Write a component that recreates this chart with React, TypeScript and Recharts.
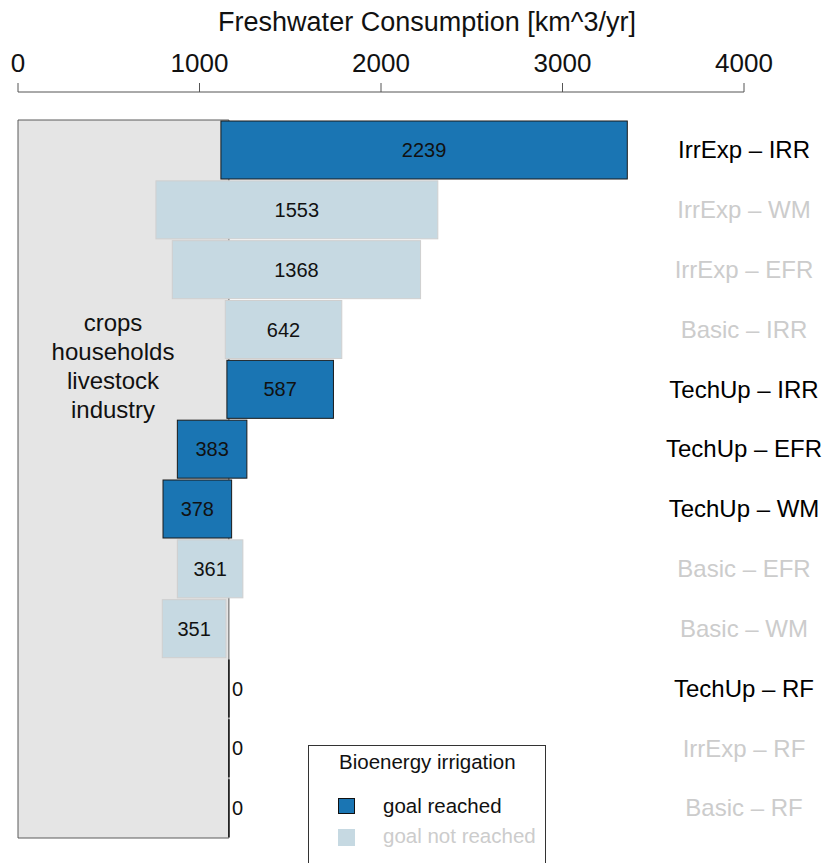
import { BarChart, Bar, XAxis, YAxis, ReferenceArea, Legend } from "recharts"

// scenario rows, top to bottom
const scenarios = [
  "IrrExp – IRR",
  "IrrExp – WM",
  "IrrExp – EFR",
  "Basic – IRR",
  "TechUp – IRR",
  "TechUp – EFR",
  "TechUp – WM",
  "Basic – EFR",
  "Basic – WM",
  "TechUp – RF",
  "IrrExp – RF",
  "Basic – RF",
]
// consumption of crops, households, livestock and industry [km^3/yr]
const otherUse = [1118, 760, 850, 1142, 1151, 878, 799, 878, 795, 1162, 1162, 1162]
// additional consumption for bioenergy irrigation [km^3/yr]
const bioenergyUse = [2239, 1553, 1368, 642, 587, 383, 378, 361, 351, 0, 0, 0]
const goalReached = [true, false, false, false, true, true, true, false, false, true, false, false]
const baselineUse = 1162
const xTicks = [0, 1000, 2000, 3000, 4000]
const sectors = ["crops", "households", "livestock", "industry"]

const DARK = "#1a75b3"
const LIGHT = "#c6d9e2"
const GREY_TEXT = "#cccccc"

const data = scenarios.map((scenario, i) => ({
  scenario,
  other: otherUse[i],
  bio: bioenergyUse[i],
  range: [otherUse[i], otherUse[i] + bioenergyUse[i]],
  reached: goalReached[i],
}))

function ScenarioBar(props: any) {
  const { x, y, width, height, payload } = props
  const cy = y + height / 2
  if (!width) {
    return (
      <g>
        <line x1={x} x2={x} y1={y} y2={y + height} stroke="#111" strokeWidth={1.5} />
        <text x={x + 3} y={cy} dy="0.35em" fontSize={20} fill="#111">
          {payload.bio}
        </text>
      </g>
    )
  }
  return (
    <g>
      <rect
        x={x}
        y={y}
        width={width}
        height={height}
        fill={payload.reached ? DARK : LIGHT}
        stroke={payload.reached ? "#1a1a1a" : "#cfcfcf"}
        strokeWidth={1}
      />
      <text x={x + width / 2} y={cy} dy="0.35em" textAnchor="middle" fontSize={20} fill="#111">
        {payload.bio}
      </text>
    </g>
  )
}

function ScenarioTick(props: any) {
  const { x, y, payload, index } = props
  return (
    <text x={x} y={y} dy="0.35em" textAnchor="middle" fontSize={24} fill={goalReached[index] ? "#000" : GREY_TEXT}>
      {payload.value}
    </text>
  )
}

function AxisTitle() {
  return (
    <text x={427} y={31} textAnchor="middle" fontSize={27} fill="#111">
      Freshwater Consumption [km^3/yr]
    </text>
  )
}

function SectorLabel(props: any) {
  const vb = props.viewBox
  return (
    <text x={vb.x + 95} y={331} textAnchor="middle" fontSize={24} fill="#111">
      {sectors.map((s, i) => (
        <tspan key={s} x={vb.x + 95} y={331 + i * 29}>
          {s}
        </tspan>
      ))}
    </text>
  )
}

function LegendBox() {
  return (
    <svg width={239} height={140} style={{ display: "block" }}>
      <rect x={0.5} y={0.5} width={237} height={150} fill="#fff" stroke="#333" />
      <text x={31} y={24} fontSize={20.5} fill="#111">
        Bioenergy irrigation
      </text>
      <rect x={30.5} y={53.5} width={16} height={15} fill={DARK} stroke="#111" />
      <text x={75} y={68} fontSize={20.5} fill="#111">
        goal reached
      </text>
      <rect x={30} y={84} width={17} height={17} fill={LIGHT} />
      <text x={75} y={98} fontSize={20.5} fill={GREY_TEXT}>
        goal not reached
      </text>
    </svg>
  )
}

export default function App() {
  return (
    <div
      style={{
        position: "fixed",
        left: 0,
        top: 0,
        width: 825,
        height: 863,
        overflow: "hidden",
        background: "#fff",
        fontFamily: "'Liberation Sans', Arial, sans-serif",
      }}
    >
      <BarChart
        width={825}
        height={863}
        data={data}
        layout="vertical"
        margin={{ top: 0, right: 0, bottom: 25, left: 18 }}
        barCategoryGap={1}
      >
        <ReferenceArea
          x1={0}
          x2={baselineUse}
          fill="#e5e5e5"
          fillOpacity={1}
          stroke="#5a5a5a"
          strokeWidth={1}
          label={SectorLabel}
        />
        <XAxis
          type="number"
          orientation="top"
          domain={[0, 4000]}
          ticks={xTicks}
          interval={0}
          height={92}
          tickSize={9}
          tickMargin={11}
          stroke="#555"
          tick={{ fill: "#111", fontSize: 26 }}
          label={AxisTitle}
        />
        <YAxis
          type="category"
          dataKey="scenario"
          orientation="right"
          width={81}
          padding={{ top: 28, bottom: 0 }}
          axisLine={false}
          tickLine={false}
          tickSize={0}
          tickMargin={0}
          interval={0}
          tick={ScenarioTick}
        />
        <Legend
          layout="horizontal"
          verticalAlign="middle"
          align="center"
          content={LegendBox}
          wrapperStyle={{ left: 308, top: 745, width: 239, height: 140 }}
        />
        <Bar dataKey="range" isAnimationActive={false} shape={ScenarioBar} />
      </BarChart>
    </div>
  )
}
